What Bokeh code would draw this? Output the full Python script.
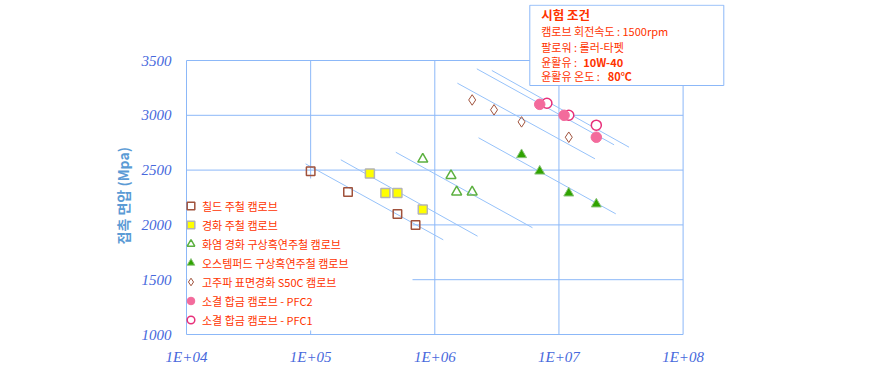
from bokeh.plotting import figure
from bokeh.models import (FixedTicker, CustomJSTickFormatter, Legend, LegendItem,
                          BoxAnnotation, Label, Title)
from bokeh.embed import file_html
from bokeh.resources import INLINE

# ---------------- data ----------------
chilled_x = [1e5, 2e5, 5e5, 7e5]
chilled_y = [2490, 2300, 2100, 2000]
hardened_x = [3e5, 4e5, 5e5, 8e5]
hardened_y = [2470, 2290, 2290, 2140]
flame_x = [8e5, 1.35e6, 1.5e6, 2e6]
flame_y = [2600, 2450, 2300, 2300]
austemper_x = [5e6, 7e6, 1.2e7, 2e7]
austemper_y = [2640, 2490, 2290, 2190]
induction_x = [2e6, 3e6, 5e6, 1.2e7]
induction_y = [3140, 3050, 2940, 2800]
pfc2_x = [7e6, 1.1e7, 2e7]
pfc2_y = [3100, 3000, 2800]
pfc1_x = [8e6, 1.2e7, 2e7]
pfc1_y = [3110, 3000, 2910]

# trend lines (start / end)
trend_x0 = [9.1e4, 1.75e5, 4.85e5, 2.25e6, 1.52e6, 2.18e6, 2.88e6]
trend_y0 = [2557, 2594, 2663, 2795, 3293, 3424, 3409]
trend_x1 = [1.17e6, 2.21e6, 6.12e6, 2.87e7, 1.95e7, 2.78e7, 3.67e7]
trend_y1 = [1864, 1897, 1974, 2101, 2603, 2731, 2709]

x_ticks = [1e4, 1e5, 1e6, 1e7, 1e8]
y_ticks = [1000, 1500, 2000, 2500, 3000, 3500]

labels = ["칠드 주철 캠로브", "경화 주철 캠로브", "화염 경화 구상흑연주철 캠로브",
          "오스템퍼드 구상흑연주철 캠로브", "고주파 표면경화 S50C 캠로브",
          "소결 합금 캠로브 - PFC2", "소결 합금 캠로브 - PFC1"]

y_title = "접촉 면압 (Mpa)"
cond_title = "시험 조건"
cond_lines = ["캠로브 회전속도 : 1500rpm", "팔로워 : 롤러-타펫", "윤활유 : ", "윤활유 온도 : "]
cond_bold = ["10W-40", "80℃"]

# ---------------- layout helpers (pixels -> data) ----------------
PX_DEC = 124.15        # px per decade
PX_Y = 0.1096          # px per MPa
X0_PX, Y0_PX = 186, 334  # page position of (1e4, 1000)


def xd(px):
    return 10 ** (4 + (px - X0_PX) / PX_DEC)


def yd(py):
    return 1000 + (Y0_PX - py) / PX_Y


GRID = "#8cb8f8"
RED = "#ff3300"
KFONT = "Noto Sans CJK KR"

FL, FR, FT, FB = 185, 725, 4, 335   # frame edges (page px)

p = figure(x_axis_type="log", x_range=(xd(FL), xd(FR)), y_range=(yd(FB), yd(FT)),
           frame_width=FR - FL, frame_height=FB - FT,
           min_border_left=FL, min_border_right=40, min_border_top=FT, min_border_bottom=40,
           output_backend="svg", toolbar_location=None)
p.outline_line_color = None
p.background_fill_color = "white"
p.border_fill_color = "white"
p.xgrid.visible = False
p.ygrid.visible = False

p.xaxis.ticker = FixedTicker(ticks=x_ticks)
p.yaxis.ticker = FixedTicker(ticks=y_ticks)
p.xaxis.formatter = CustomJSTickFormatter(
    code="return '1E+' + String(Math.round(Math.log10(tick))).padStart(2, '0');")

for ax in (p.xaxis[0], p.yaxis[0]):
    ax.axis_line_color = None
    ax.major_tick_line_color = None
    ax.minor_tick_line_color = None
    ax.major_tick_out = 0
    ax.major_tick_in = 0
    ax.minor_tick_out = 0
    ax.minor_tick_in = 0
    ax.major_label_text_font = "Liberation Serif"
    ax.major_label_text_font_style = "italic"
    ax.major_label_text_font_size = "15px"
    ax.major_label_text_color = "#4768dc"
p.xaxis.major_label_standoff = 13
p.yaxis.major_label_standoff = 14

p.add_layout(Title(text=y_title, align="left", offset=Y0_PX - 243,
                   text_font=KFONT, text_font_size="14px", text_font_style="bold",
                   text_color="#5b9bd5", standoff=11), "left")

# grid + plot box (from tick lists)
gx0 = [x for x in x_ticks] + [x_ticks[0]] * len(y_ticks)
gx1 = [x for x in x_ticks] + [x_ticks[-1]] * len(y_ticks)
gy0 = [y_ticks[0]] * len(x_ticks) + [y for y in y_ticks]
gy1 = [y_ticks[-1]] * len(x_ticks) + [y for y in y_ticks]
p.segment(x0=gx0, y0=gy0, x1=gx1, y1=gy1, line_color=GRID, line_width=1, level="underlay")

# white area behind legend (hides grid)
p.quad(left=[xd(X0_PX + 1)], right=[xd(412)], bottom=[yd(330)], top=[yd(178)],
       fill_color="white", line_color=None, level="underlay")

# trend lines
p.segment(x0=trend_x0, y0=trend_y0, x1=trend_x1, y1=trend_y1,
          line_color="#96c2fa", line_width=1)

r1 = p.scatter(chilled_x, chilled_y, marker="square", size=8.5, fill_color=None,
               line_color="#a0523c", line_width=1.5)
r2 = p.scatter(hardened_x, hardened_y, marker="square", size=9, fill_color="#ffff00",
               line_color="#b4b4b4", line_width=1.5)
r3 = p.scatter(flame_x, flame_y, marker="triangle", size=10, fill_color=None,
               line_color="#5cb040", line_width=1.5)
r4 = p.scatter(austemper_x, austemper_y, marker="triangle", size=10, fill_color="#2fa300",
               line_color="#8cc47c", line_width=1)
r5 = p.scatter(induction_x, induction_y, marker="diamond", size=10.5,
               fill_color=None, line_color="#a0523c", line_width=1)
r7 = p.scatter(pfc1_x, pfc1_y, marker="circle", size=10, fill_color="white",
               line_color="#e8307a", line_width=1.5)
r6 = p.scatter(pfc2_x, pfc2_y, marker="circle", size=10.5, fill_color="#f36b9c",
               line_color="#f36b9c", line_width=1)

rends = [r1, r2, r3, r4, r5, r6, r7]
legend = Legend(items=[LegendItem(label=l, renderers=[r]) for l, r in zip(labels, rends)],
                location=(-4, 6), padding=2, spacing=0, margin=0,
                glyph_width=19, glyph_height=19, label_height=19, label_standoff=2,
                label_text_font=KFONT, label_text_font_size="11px", label_text_color=RED,
                label_text_baseline="middle",
                background_fill_alpha=0, border_line_color=None)
p.add_layout(legend)

# test-condition box (top right)
p.add_layout(BoxAnnotation(left=xd(529.3), right=xd(723.3), bottom=yd(85), top=yd(4.7),
                           fill_color="white", fill_alpha=1, line_color=GRID,
                           line_alpha=1, line_width=1, level="overlay"))
tx = xd(540.7)
row_y = [yd(14), yd(30.7), yd(46), yd(61), yd(75.3)]
p.add_layout(Label(x=tx, y=row_y[0], text=cond_title, text_font=KFONT,
                   text_font_size="12.5px", text_font_style="bold", text_color=RED,
                   text_baseline="middle", level="overlay"))
for t, yy in zip(cond_lines, row_y[1:]):
    p.add_layout(Label(x=tx, y=yy, text=t, text_font=KFONT, text_font_size="11px",
                       text_color=RED, text_baseline="middle", level="overlay"))
for t, xx, yy in zip(cond_bold, [xd(582.7), xd(607.3)], row_y[3:]):
    p.add_layout(Label(x=xx, y=yy, text=t, text_font=KFONT, text_font_size="11px",
                       text_font_style="bold", text_color=RED, text_baseline="middle",
                       level="overlay"))

open("out.html", "w").write(file_html(p, INLINE))
